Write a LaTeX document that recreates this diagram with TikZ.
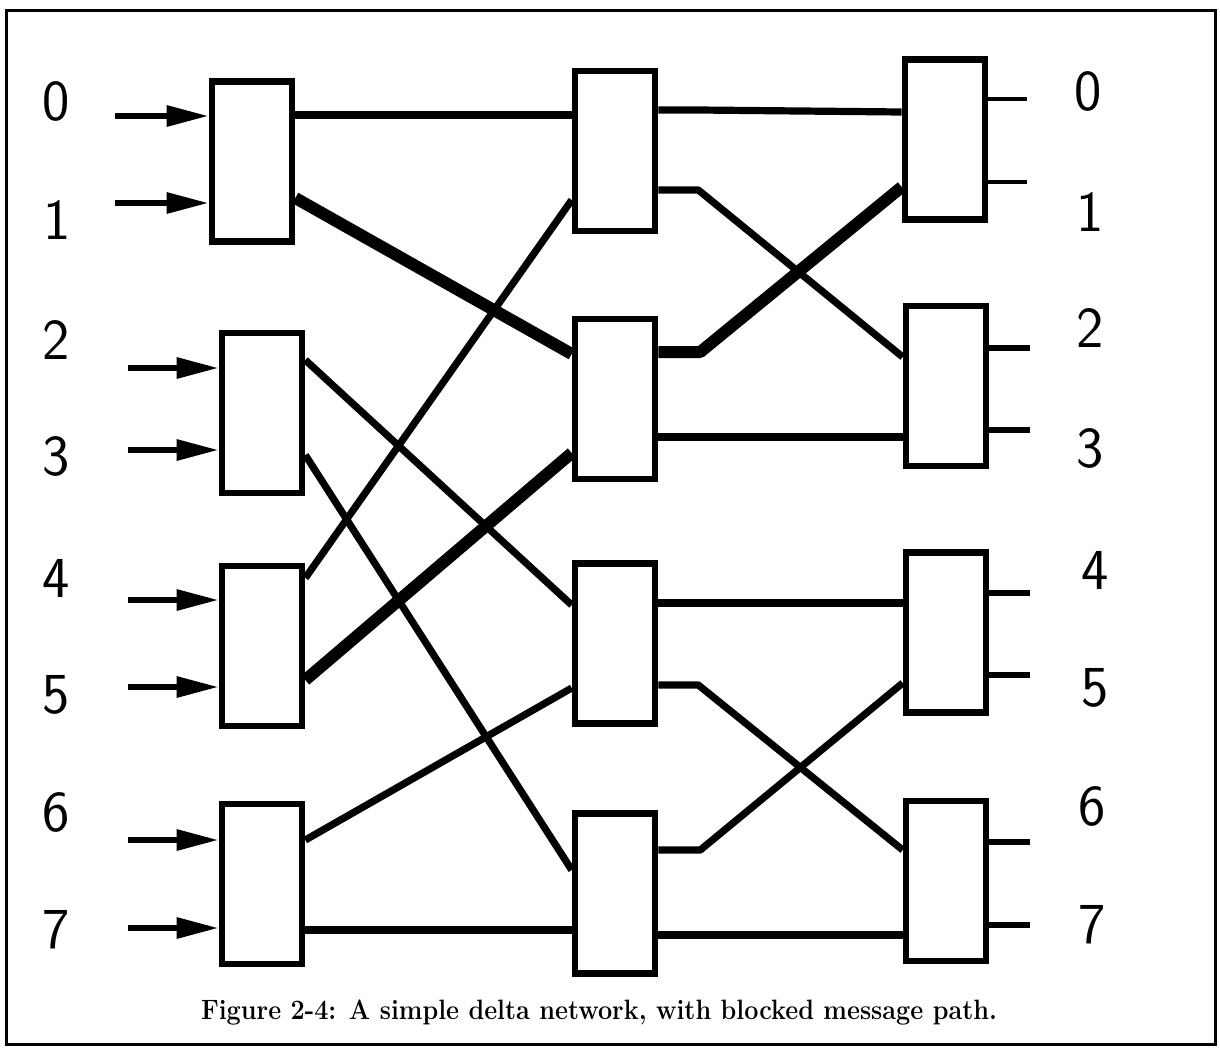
\documentclass[tikz,border=0pt]{standalone}
\usetikzlibrary{arrows.meta}
\begin{document}
\begin{tikzpicture}[x=0.5pt,y=-0.5pt,
  sw/.style={draw, line width=3.3pt, minimum width=40pt, minimum height=80pt, inner sep=0pt},
  wire/.style={line width=3.6pt, line join=round},
  hot/.style={line width=6pt, line join=round},
  stub/.style={line width=2.6pt},
  inarr/.style={line width=3pt, -{Triangle[length=21pt,width=10pt]}},
  num/.style={font=\fontsize{29}{30}\selectfont\sffamily, inner sep=0pt}]
\useasboundingbox (0,0) rectangle (1220,1049);
\draw[line width=1.5pt] (6,10) rectangle (1215,1044);
% stage 1
\node[sw] (A) at (252,161.5) {};
\node[sw] (B) at (262,413) {};
\node[sw] (C) at (262,646) {};
\node[sw] (D) at (262,884) {};
% stage 2
\node[sw] (E) at (615,151) {};
\node[sw] (F) at (615,399) {};
\node[sw] (G) at (615,643.5) {};
\node[sw] (H) at (615,893.5) {};
% stage 3
\node[sw] (I) at (945,139.5) {};
\node[sw] (J) at (946,386) {};
\node[sw] (K) at (946,632.5) {};
\node[sw] (L) at (946,881) {};
% left labels
\node[num] (l0) at (56,101) {0};
\node[num] (l1) at (57,220) {1};
\node[num] (l2) at (56,340) {2};
\node[num] (l3) at (56,456) {3};
\node[num] (l4) at (56,578) {4};
\node[num] (l5) at (56,695) {5};
\node[num] (l6) at (56,812) {6};
\node[num] (l7) at (56,930) {7};
% right labels
\node[num] (r0) at (1088,91) {0};
\node[num] (r1) at (1090,212) {1};
\node[num] (r2) at (1090,328) {2};
\node[num] (r3) at (1090,448) {3};
\node[num] (r4) at (1095,570) {4};
\node[num] (r5) at (1095,688) {5};
\node[num] (r6) at (1092,806) {6};
\node[num] (r7) at (1092,925) {7};
% inputs
\coordinate (i0) at (115,116);
\coordinate (i1) at (115,203);
\coordinate (i2) at (128,368);
\coordinate (i3) at (128,450);
\coordinate (i4) at (128,600);
\coordinate (i5) at (128,687);
\coordinate (i6) at (128,840);
\coordinate (i7) at (128,928);
\draw[inarr] (i0) -- (i0 -| A.west);
\draw[inarr] (i1) -- (i1 -| A.west);
\draw[inarr] (i2) -- (i2 -| B.west);
\draw[inarr] (i3) -- (i3 -| B.west);
\draw[inarr] (i4) -- (i4 -| C.west);
\draw[inarr] (i5) -- (i5 -| C.west);
\draw[inarr] (i6) -- (i6 -| D.west);
\draw[inarr] (i7) -- (i7 -| D.west);
% outputs
\coordinate (o0) at (1027,99);
\coordinate (o1) at (1027,182);
\coordinate (o2) at (1030,348);
\coordinate (o3) at (1030,430);
\coordinate (o4) at (1030,593);
\coordinate (o5) at (1030,675);
\coordinate (o6) at (1030,842);
\coordinate (o7) at (1030,925);
\draw[stub,line width=1.8pt] (I.east |- o0) -- (o0);
\draw[stub,line width=1.8pt] (I.east |- o1) -- (o1);
\draw[stub] (J.east |- o2) -- (o2);
\draw[stub] (J.east |- o3) -- (o3);
\draw[stub] (K.east |- o4) -- (o4);
\draw[stub] (K.east |- o5) -- (o5);
\draw[stub] (L.east |- o6) -- (o6);
\draw[stub] (L.east |- o7) -- (o7);
% stage 1 -> 2
\draw[wire] (A.east |- 0,115) -- (E.west |- 0,115);
\draw[hot]  (A.east |- 0,198) -- (F.west |- 0,354);
\draw[wire] (B.east |- 0,360) -- (G.west |- 0,605);
\draw[wire] (B.east |- 0,455) -- (H.west |- 0,870);
\draw[wire] (C.east |- 0,578) -- (E.west |- 0,200);
\draw[hot]  (C.east |- 0,680) -- (F.west |- 0,453);
\draw[wire] (D.east |- 0,840) -- (G.west |- 0,688);
\draw[wire] (D.east |- 0,930) -- (H.west |- 0,930);
% stage 2 -> 3
\draw[wire] (E.east |- 0,110) -- ++(40,0) -- (I.west |- 0,112);
\draw[wire] (E.east |- 0,190) -- ++(40,0) -- (J.west |- 0,357);
\draw[hot]  (F.east |- 0,352) -- ++(42,0) -- (I.west |- 0,187);
\draw[wire] (F.east |- 0,437) -- (J.west |- 0,437);
\draw[wire] (G.east |- 0,603) -- (K.west |- 0,603);
\draw[wire] (G.east |- 0,685) -- ++(40,0) -- (L.west |- 0,850);
\draw[wire] (H.east |- 0,850) -- ++(42,0) -- (K.west |- 0,683);
\draw[wire] (H.east |- 0,935) -- (L.west |- 0,935);
% caption
\node[inner sep=0pt, font=\bfseries\fontsize{14}{16}\selectfont] (cap) at (599,1012) {\scalebox{0.9}[1]{Figure 2-4: A simple delta network, with blocked message path.}};
\end{tikzpicture}
\end{document}
